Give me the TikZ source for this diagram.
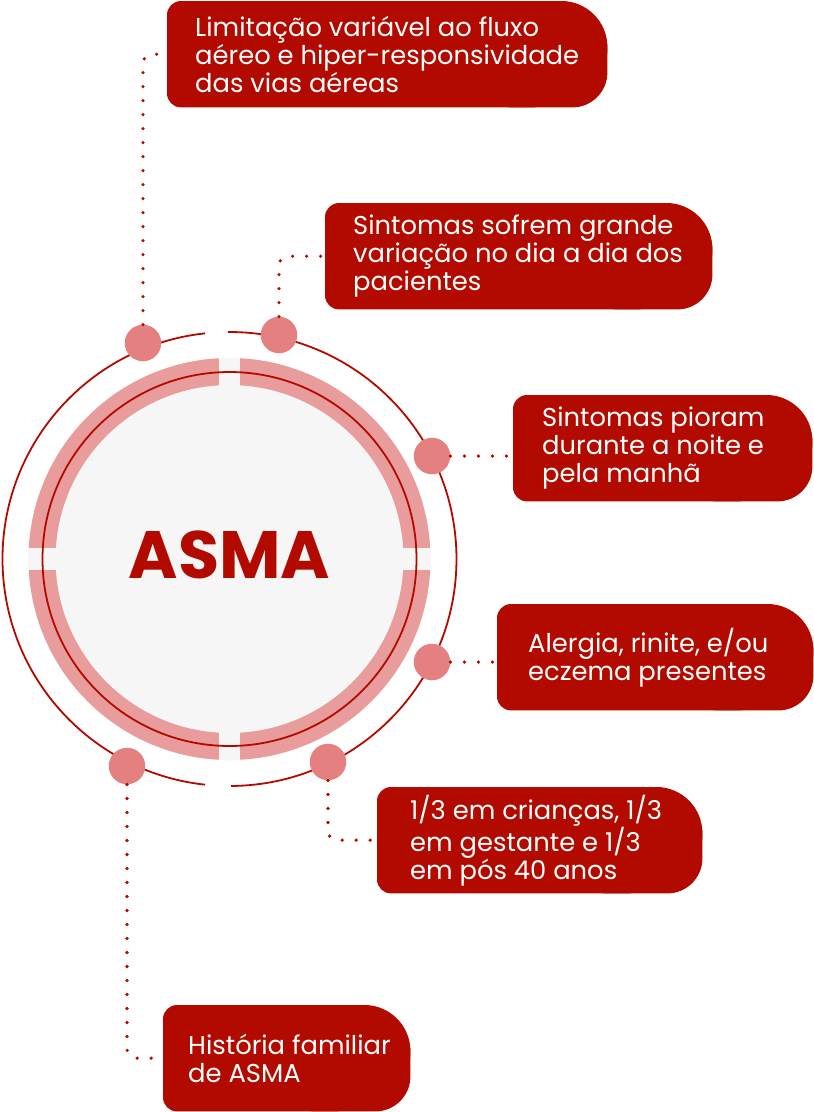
\documentclass[tikz,border=0pt]{standalone}
\usepackage{fontspec}
\setmainfont{Poppins}
\usetikzlibrary{positioning}
\definecolor{asmared}{HTML}{B30A00}
\definecolor{dotpink}{HTML}{E58080}
\definecolor{bandpink}{HTML}{E99C9C}
\definecolor{discgray}{HTML}{F6F6F6}

\begin{document}
\begin{tikzpicture}[
    x=1pt,y=1pt,
    pill/.style={
      minimum width=#1,
      minimum height=106pt,
      inner sep=0pt,
      anchor=north west
    },
    tagtext/.style={
      text=white,
      align=left,
      inner sep=0pt,
      anchor=west,
      font=\fontsize{25.8}{28}\selectfont
    },
    spot/.style={circle,fill=dotpink,minimum size=36.5pt,inner sep=0pt},
    ring/.style={draw=asmared,line width=1.8pt},
    dotline/.style={
      draw=asmared,
      line width=3.6pt,
      line cap=round,
      dash pattern=on 0pt off 14pt,
      rounded corners=9pt,
      shorten >=4pt
    }
  ]
  \useasboundingbox (0,0) rectangle (814,-1112);
  \coordinate (c) at (229.5,-559);

  \fill[discgray] (c) circle (201);
  \draw[bandpink,line width=27pt] (c) circle (187.5);
  \begin{scope}
    \clip (c) circle (201.5);
    \fill[discgray] (219,-340) rectangle (240,-780);
    \fill[discgray] (10,-548) rectangle (450,-570);
  \end{scope}
  \draw[ring] (c) circle (187);
  \draw[ring] (c) ++(-89.6:227) arc[start angle=-89.6,end angle=90.4,radius=227];
  \draw[ring] (c) ++(96.2:227) arc[start angle=96.2,end angle=263.8,radius=227];

  \node[text=asmared,font=\fontsize{67}{67}\selectfont\bfseries] (asma) at (229.5,-554.5) {ASMA};

  \node[spot] (d1) at (143,-343) {};
  \node[spot] (d2) at (279,-335) {};
  \node[spot] (d3) at (432,-456) {};
  \node[spot] (d4) at (432,-662) {};
  \node[spot] (d5) at (328,-762) {};
  \node[spot] (d6) at (127,-766) {};

  \node[pill=440pt] (lim) at (167,-1) {};
  \node[pill=387pt] (var) at (325,-203) {};
  \node[pill=299pt] (noite) at (513,-395) {};
  \node[pill=316pt] (alerg) at (497,-604) {};
  \node[pill=325pt] (terco) at (377,-787) {};
  \node[pill=247pt] (hist) at (163,-1005) {};

  \foreach \b in {lim,var,noite,alerg,terco,hist} {
    \fill[asmared,rounded corners=14pt] (\b.south west) rectangle ([xshift=-60pt]\b.north east);
    \fill[asmared,rounded corners=46pt] ([xshift=-130pt]\b.north east) rectangle ([yshift=12pt]\b.south east);
    \fill[asmared,rounded corners=35pt] ([xshift=-130pt,yshift=-12pt]\b.north east) rectangle (\b.south east);
  }

  \node[tagtext,right=28pt of lim.west] (limtxt) {Limitação variável ao fluxo\\aéreo e hiper-responsividade\\das vias aéreas};
  \node[tagtext,right=28pt of var.west] (vartxt) {Sintomas sofrem grande\\variação no dia a dia dos\\pacientes};
  \node[tagtext,right=29pt of noite.west] (noitetxt) {Sintomas pioram\\durante a noite e\\pela manhã};
  \node[tagtext,right=31pt of alerg.west] (alergtxt) {Alergia, rinite, e/ou\\eczema presentes};
  \node[tagtext,right=33pt of terco.west] (tercotxt) {1/3 em crianças, 1/3\\em gestante e 1/3\\em pós 40 anos};
  \node[tagtext,right=25pt of hist.west] (histtxt) {História familiar\\de ASMA};

  \draw[dotline] (d1) |- (lim.west);
  \draw[dotline] (d2) |- (var.west);
  \draw[dotline] (d3) -- (d3 -| noite.west);
  \draw[dotline] (d4) -- (d4 -| alerg.west);
  \draw[dotline] (d5) |- (terco.west);
  \draw[dotline] (d6) |- (hist.west);
\end{tikzpicture}
\end{document}
